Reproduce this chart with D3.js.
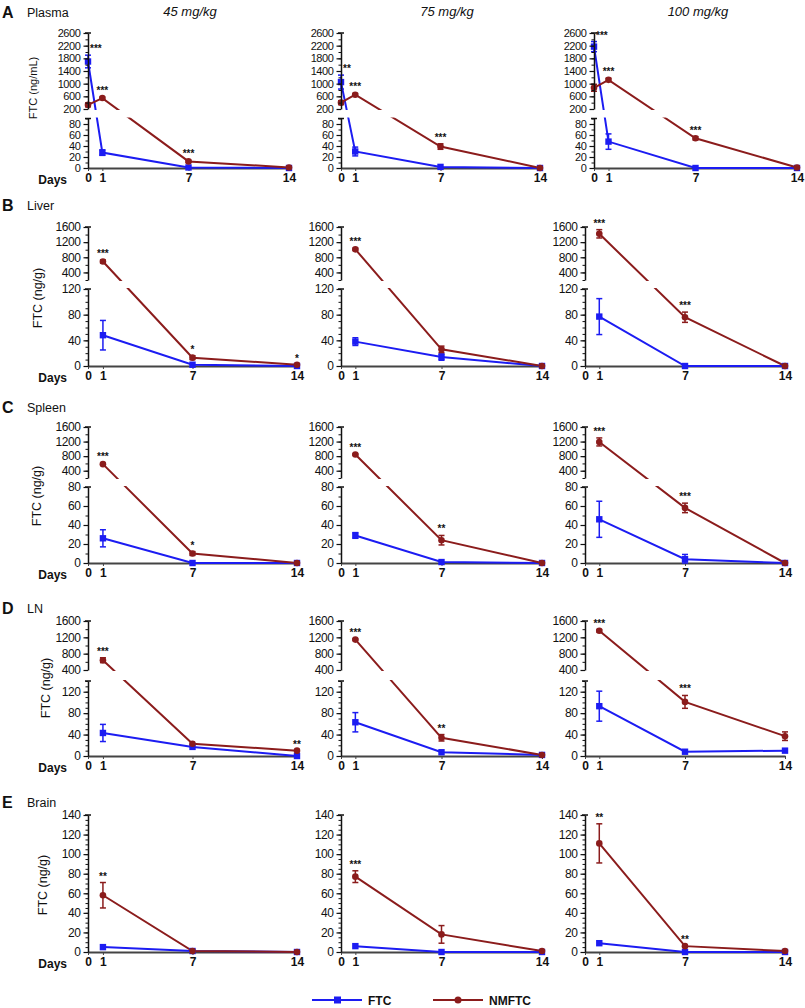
<!DOCTYPE html>
<html>
<head>
<meta charset="utf-8">
<script src="https://cdn.jsdelivr.net/npm/d3@7"></script>
<style>
  body { margin: 0; background: #fff; }
  text { font-family: "Liberation Sans", Arial, sans-serif; fill: #111; }
</style>
</head>
<body>
<svg></svg>
<script>
var width = 805,
    height = 1008;

var svg = d3.select("svg")
    .attr("width", width)
    .attr("height", height);

// Days sampled (plasma has a day-0 point)
var daysPlasma = [0, 1, 7, 14];
var daysOrgan = [1, 7, 14];
var xTickLabels = [0, 1, 7, 14];

var doses = ["45 mg/kg", "75 mg/kg", "100 mg/kg"];
var letters = ["A", "B", "C", "D", "E"];
var tissues = ["Plasma", "Liver", "Spleen", "LN", "Brain"];
var yTitles = ["FTC (ng/mL)", "FTC (ng/g)", "FTC (ng/g)", "FTC (ng/g)", "FTC (ng/g)"];

// Tick labels of the broken axes
var plasmaUpTicks = [200, 600, 1000, 1400, 1800, 2200, 2600];
var plasmaLowTicks = [0, 20, 40, 60, 80];
var organUpTicks = [400, 800, 1200, 1600];
var liverLowTicks = [0, 40, 80, 120];
var spleenLowTicks = [0, 20, 40, 60, 80];
var lnLowTicks = [0, 40, 80, 120];
var brainTicks = [0, 20, 40, 60, 80, 100, 120, 140];

// Values, one list per dose (45, 75, 100 mg/kg)
var ftcPlasma    = [[1700, 28, 1, 0], [1050, 30, 2, 0], [2170, 48, 0, 0]];
var ftcPlasmaErr = [[200, 5, 0, 0], [220, 8, 0, 0], [160, 14, 0, 0]];
var nmPlasma     = [[330, 545, 12, 1], [400, 650, 39, 0], [870, 1120, 54, 1]];
var nmPlasmaErr  = [[60, 30, 2, 0], [60, 40, 5, 0], [110, 50, 3, 0]];

var ftcLiver    = [[48, 2, 0], [38, 14, 0], [77, 0, 0]];
var ftcLiverErr = [[23, 0, 0], [6, 5, 0], [28, 0, 0]];
var nmLiver     = [[690, 13, 2], [1010, 26, 0], [1420, 76, 0]];
var nmLiverErr  = [[40, 3, 0], [30, 5, 0], [110, 8, 0]];

var ftcSpleen    = [[26, 0, 0], [29, 1, 0], [46, 4, 0]];
var ftcSpleenErr = [[9, 0, 0], [3, 0, 0], [19, 5, 0]];
var nmSpleen     = [[580, 10, 0], [845, 24, 0], [1190, 58, 0]];
var nmSpleenErr  = [[20, 2, 0], [20, 5, 0], [110, 5, 0]];

var ftcLN    = [[43, 17, 0], [63, 7, 2], [93, 8, 10]];
var ftcLNErr = [[16, 0, 0], [18, 0, 0], [28, 0, 0]];
var nmLN     = [[640, 23, 10], [1145, 34, 2], [1360, 101, 37]];
var nmLNErr  = [[60, 0, 0], [20, 6, 0], [30, 12, 8]];

var ftcBrain    = [[5, 1, 0], [6, 0, 0], [9, 0, 0]];
var ftcBrainErr = [[0, 0, 0], [0, 0, 0], [0, 0, 0]];
var nmBrain     = [[58, 1, 0], [77, 18, 1], [111, 6, 1]];
var nmBrainErr  = [[13, 0, 0], [6, 9, 0], [20, 0, 0]];

// Significance marks: [day, label] per dose
var starsPlasma = [[[0, "***"], [1, "***"], [7, "***"]], [[0, "**"], [1, "***"], [7, "***"]], [[0, "***"], [1, "***"], [7, "***"]]];
var starsLiver  = [[[1, "***"], [7, "*"], [14, "*"]], [[1, "***"]], [[1, "***"], [7, "***"]]];
var starsSpleen = [[[1, "***"], [7, "*"]], [[1, "***"], [7, "**"]], [[1, "***"], [7, "***"]]];
var starsLN     = [[[1, "***"], [14, "**"]], [[1, "***"], [7, "**"]], [[1, "***"], [7, "***"]]];
var starsBrain  = [[[1, "**"]], [[1, "***"]], [[1, "**"], [7, "**"]]];

var FTC_COLOR = "#1c1cf2",
    NM_COLOR = "#8b1c1c";

var colsA = [[88, 289], [341, 540], [594, 797]],
    colsB = [[88, 297], [341, 542], [585, 785]];

var rows = [
  { days: daysPlasma, ftc: ftcPlasma, ftcErr: ftcPlasmaErr, nm: nmPlasma, nmErr: nmPlasmaErr, stars: starsPlasma,
    up: { domain: [200, 2600], range: [109, 33], ticks: plasmaUpTicks, minor: 200 },
    low: { domain: [0, 90], range: [168, 118.5], ticks: plasmaLowTicks, minor: 10 },
    cols: colsA, titleY: 12, yt: [33, 88], tickFont: 11 },
  { days: daysOrgan, ftc: ftcLiver, ftcErr: ftcLiverErr, nm: nmLiver, nmErr: nmLiverErr, stars: starsLiver,
    up: { domain: [200, 1600], range: [280, 227], ticks: organUpTicks, minor: 200 },
    low: { domain: [0, 120], range: [366, 289], ticks: liverLowTicks, minor: 10 },
    cols: colsB, titleY: 205, yt: [38, 298], tickFont: 12 },
  { days: daysOrgan, ftc: ftcSpleen, ftcErr: ftcSpleenErr, nm: nmSpleen, nmErr: nmSpleenErr, stars: starsSpleen,
    up: { domain: [200, 1600], range: [478, 427], ticks: organUpTicks, minor: 200 },
    low: { domain: [0, 80], range: [563, 487], ticks: spleenLowTicks, minor: 10 },
    cols: colsB, titleY: 407, yt: [37, 496], tickFont: 12 },
  { days: daysOrgan, ftc: ftcLN, ftcErr: ftcLNErr, nm: nmLN, nmErr: nmLNErr, stars: starsLN,
    up: { domain: [400, 1600], range: [670, 621], ticks: organUpTicks, minor: 200 },
    low: { domain: [0, 140], range: [756, 681], ticks: lnLowTicks, minor: 10 },
    cols: colsB, titleY: 608, yt: [46, 688], tickFont: 12 },
  { days: daysOrgan, ftc: ftcBrain, ftcErr: ftcBrainErr, nm: nmBrain, nmErr: nmBrainErr, stars: starsBrain,
    up: null,
    low: { domain: [0, 140], range: [952, 815], ticks: brainTicks, minor: 5 },
    cols: colsB, titleY: 802, yt: [43, 885], tickFont: 12 }
];

// Dose headers
svg.selectAll("text.dose")
    .data(doses)
  .enter().append("text")
    .attr("class", "dose")
    .attr("x", function(d, i) { return [190, 447, 698][i]; })
    .attr("y", 16)
    .attr("text-anchor", "middle")
    .attr("font-size", 13)
    .attr("font-style", "italic")
    .text(function(d) { return d; });

function yAxisSeg(g, seg, ax, fs) {
  var s = d3.scaleLinear().domain(seg.domain).range(seg.range);
  var minor = d3.range(seg.domain[0], seg.domain[1] + 1e-6, seg.minor);
  g.append("g")
      .attr("transform", "translate(" + ax + ",0)")
      .call(d3.axisLeft(s).tickValues(minor).tickSize(2.5).tickSizeOuter(0).tickFormat(""))
      .call(function(a) { a.select(".domain").remove(); a.selectAll("line").attr("stroke", "#111"); });
  g.append("g")
      .attr("transform", "translate(" + ax + ",0)")
      .call(d3.axisLeft(s).tickValues(seg.ticks).tickSize(4.5).tickSizeOuter(0).tickPadding(3)
        .tickFormat(d3.format("d")))
      .call(function(a) {
        a.select(".domain").attr("stroke", "#111").attr("stroke-width", 1.5);
        a.selectAll("line").attr("stroke", "#111").attr("stroke-width", 1.2);
        a.selectAll("text").attr("font-size", fs).attr("letter-spacing", -0.4)
          .attr("font-family", "'Liberation Sans', Arial, sans-serif").attr("fill", "#111");
      });
  // end cap at the break
  var capY = seg.range[1];
  g.append("line")
      .attr("x1", ax - 3).attr("x2", ax + 3)
      .attr("y1", capY).attr("y2", capY)
      .attr("stroke", "#111").attr("stroke-width", 1.5);
  return s;
}

rows.forEach(function(row, r) {
  // panel letter and tissue name
  svg.append("text").attr("x", 2).attr("y", row.titleY + 6)
      .attr("font-size", 16).attr("font-weight", "bold").text(letters[r]);
  svg.append("text").attr("x", 27).attr("y", row.titleY + 5)
      .attr("font-size", 12.5).text(tissues[r]);

  svg.append("text")
      .attr("transform", "translate(" + row.yt[0] + "," + row.yt[1] + ") rotate(-90)")
      .attr("text-anchor", "middle")
      .attr("dy", "0.35em")
      .attr("font-size", r === 0 ? 11 : 12.5)
      .text(yTitles[r]);

  row.cols.forEach(function(col, c) {
    var g = svg.append("g");
    var x = d3.scaleLinear().domain([0, 14]).range(col);
    var ax = col[0];
    var yLow = d3.scaleLinear().domain(row.low.domain).range(row.low.range);
    var yUp = row.up ? d3.scaleLinear().domain(row.up.domain).range(row.up.range) : null;
    function scaleFor(v) { return (!yUp || v <= row.low.domain[1]) ? yLow : yUp; }
    function y(v) { return scaleFor(v)(v); }

    // x axis
    var axisY = row.low.range[0];
    g.append("g")
        .attr("transform", "translate(0," + axisY + ")")
        .call(d3.axisBottom(x).tickValues(xTickLabels).tickSize(3).tickSizeOuter(0).tickPadding(2))
        .call(function(a) {
          a.select(".domain").attr("stroke", "#444").attr("stroke-width", 2.2);
          a.selectAll("line").attr("stroke", "#444");
          a.selectAll("text").attr("font-size", 12).attr("font-weight", "bold")
            .attr("font-family", "'Liberation Sans', Arial, sans-serif").attr("fill", "#111");
        });
    if (c === 0) {
      g.append("text").attr("x", ax - 21).attr("y", axisY + 16)
          .attr("text-anchor", "end").attr("font-size", 12).attr("font-weight", "bold").text("Days");
    }

    var series = [
      { vals: row.ftc[c], errs: row.ftcErr[c], color: FTC_COLOR, shape: "square" },
      { vals: row.nm[c], errs: row.nmErr[c], color: NM_COLOR, shape: "circle" }
    ];

    var line = d3.line()
        .x(function(d) { return x(d.day); })
        .y(function(d) { return y(d.v); });

    series.forEach(function(s) {
      var pts = row.days.map(function(d, i) { return { day: d, v: s.vals[i], e: s.errs[i] }; });
      g.append("path")
          .datum(pts)
          .attr("d", line)
          .attr("fill", "none")
          .attr("stroke", s.color)
          .attr("stroke-width", 2);
      s.pts = pts;
    });

    // white band over the axis break
    if (yUp) {
      g.append("rect")
          .attr("x", ax + 1)
          .attr("y", row.up.range[0] + 1)
          .attr("width", col[1] - ax + 10)
          .attr("height", row.low.range[1] - row.up.range[0] - 2)
          .attr("fill", "#fff");
    }

    series.forEach(function(s) {
      var eb = s.pts.filter(function(d) { return d.e > 0; });
      var ebG = g.append("g").attr("stroke", s.color).attr("stroke-width", 1.5);
      eb.forEach(function(d) {
        var sc = scaleFor(d.v), cx = x(d.day);
        var y1 = sc(d.v + d.e), y2 = sc(Math.max(0, d.v - d.e));
        ebG.append("line").attr("x1", cx).attr("x2", cx).attr("y1", y1).attr("y2", y2);
        ebG.append("line").attr("x1", cx - 3).attr("x2", cx + 3).attr("y1", y1).attr("y2", y1);
        ebG.append("line").attr("x1", cx - 3).attr("x2", cx + 3).attr("y1", y2).attr("y2", y2);
      });
      if (s.shape === "square") {
        g.selectAll(null).data(s.pts).enter().append("rect")
            .attr("x", function(d) { return x(d.day) - 3.2; })
            .attr("y", function(d) { return y(d.v) - 3.2; })
            .attr("width", 6.4).attr("height", 6.4)
            .attr("fill", s.color);
      } else {
        g.selectAll(null).data(s.pts).enter().append("circle")
            .attr("cx", function(d) { return x(d.day); })
            .attr("cy", function(d) { return y(d.v); })
            .attr("r", 3.3)
            .attr("fill", s.color);
      }
    });

    // y axis segments
    yAxisSeg(g, row.low, ax, row.tickFont);
    if (yUp) yAxisSeg(g, row.up, ax, row.tickFont);

    // significance stars
    row.stars[c].forEach(function(st) {
      var top = d3.min(series, function(s) {
        var i = row.days.indexOf(st[0]);
        var v = s.vals[i], e = s.errs[i];
        return scaleFor(v)(v + e);
      });
      g.append("text")
          .attr("x", st[0] === 0 ? ax + 2 : x(st[0]))
          .attr("y", top - 3)
          .attr("text-anchor", st[0] === 0 ? "start" : "middle")
          .attr("font-size", 10)
          .attr("font-weight", "bold")
          .text(st[1]);
    });
  });
});

// Legend
var legend = [
  { name: "FTC", color: FTC_COLOR, shape: "square", x: 312 },
  { name: "NMFTC", color: NM_COLOR, shape: "circle", x: 433 }
];
var lg = svg.selectAll("g.legend").data(legend).enter().append("g")
    .attr("transform", function(d) { return "translate(" + d.x + ",1000)"; });
lg.append("line").attr("x1", 0).attr("x2", 50).attr("stroke", function(d) { return d.color; }).attr("stroke-width", 2);
lg.filter(function(d) { return d.shape === "square"; }).append("rect")
    .attr("x", 22).attr("y", -3.5).attr("width", 7).attr("height", 7).attr("fill", function(d) { return d.color; });
lg.filter(function(d) { return d.shape === "circle"; }).append("circle")
    .attr("cx", 25).attr("r", 3.5).attr("fill", function(d) { return d.color; });
lg.append("text").attr("x", 56).attr("y", 4.5)
    .attr("font-size", 12).attr("font-weight", "bold").text(function(d) { return d.name; });
</script>
</body>
</html>
